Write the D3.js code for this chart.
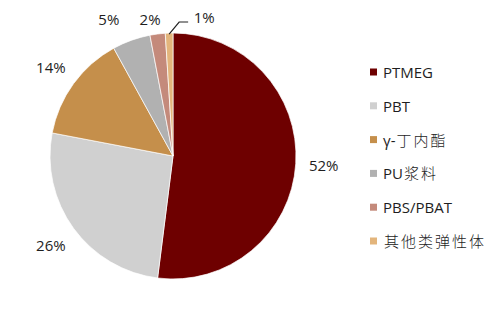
<!DOCTYPE html>
<html>
<head>
<meta charset="utf-8">
<script src="https://cdn.jsdelivr.net/npm/d3@7.9.0/dist/d3.min.js"></script>
<style>
  body { margin: 0; background: #fff; }
  svg text { font-family: "Open Sans", "Noto Sans CJK SC", sans-serif; fill: #1e1e1e; }
</style>
</head>
<body>
<svg width="500" height="314"></svg>
<script>
const categories = ['PTMEG', 'PBT', 'γ-丁内酯', 'PU浆料', 'PBS/PBAT', '其他类弹性体'];
const shares = [52, 26, 14, 5, 2, 1];
const pctLabels = ['52%', '26%', '14%', '5%', '2%', '1%'];
const colorList = ['#6e0000', '#d0d0d0', '#c58f4b', '#b1b1b1', '#c48a7b', '#e3b57c'];

const svg = d3.select('svg');
const cx = 173, cy = 156, r = 123;

const data = categories.map((c, i) => ({ label: c, value: shares[i], text: pctLabels[i] }));
const color = d3.scaleOrdinal().domain(categories).range(colorList);

const pie = d3.pie().value((d) => d.value).sort(null);
const arc = d3.arc().innerRadius(0).outerRadius(r);
const arcs = pie(data);

const g = svg.append('g').attr('transform', `translate(${cx},${cy})`);

g.selectAll('path')
  .data(arcs)
  .join('path')
  .attr('d', arc)
  .attr('fill', (d) => color(d.data.label))
  .attr('stroke', '#fff')
  .attr('stroke-width', 0.7);

// percentage labels
const labelR = 151;
arcs.forEach((d, i) => {
  const mid = (d.startAngle + d.endAngle) / 2;
  let x = labelR * Math.sin(mid);
  let y = -labelR * Math.cos(mid);
  if (i === arcs.length - 1) {
    // tiny slice: label pushed right with a leader line
    const ex = r * Math.sin(mid), ey = -r * Math.cos(mid);
    g.append('path')
      .attr('d', `M${ex},${ey + 1}L${ex + 10},${-134}L${ex + 19},${-134}`)
      .attr('fill', 'none')
      .attr('stroke', '#222')
      .attr('stroke-width', 1.2);
    x = ex + 35;
    y = -139;
  } else if (y < -137) {
    // keep top labels inside the picture
    x = x - (i === 3 ? 13 : 4);
    y = -137;
  }
  g.append('text')
    .attr('x', x)
    .attr('y', y)
    .attr('text-anchor', 'middle')
    .attr('dominant-baseline', 'central')
    .attr('font-size', 15)
    .text(d.data.text);
});

// legend
const legend = svg.append('g').attr('transform', 'translate(370,72)');
const rowY = d3.scalePoint().domain(categories).range([0, 169]);
const items = legend.selectAll('g')
  .data(categories)
  .join('g')
  .attr('transform', (d) => `translate(0,${rowY(d)})`);
items.append('rect')
  .attr('x', 0).attr('y', -3.5)
  .attr('width', 7).attr('height', 7)
  .attr('fill', (d) => color(d));
items.append('text')
  .attr('x', 13)
  .attr('y', 0)
  .attr('dominant-baseline', 'central')
  .attr('font-size', 15)
  .each(function (d) {
    // CJK runs are set wider, as in the original
    const runs = d.match(/[\u4e00-\u9fff]+|[^\u4e00-\u9fff]+/g);
    const t = d3.select(this);
    runs.forEach((run) => {
      const cjk = /[\u4e00-\u9fff]/.test(run);
      t.append('tspan')
        .attr('letter-spacing', cjk ? 2 : 0)
        .attr('dx', cjk ? 1 : 0)
        .attr('font-weight', cjk ? 300 : null)
        .text(run);
    });
  });
</script>
</body>
</html>
